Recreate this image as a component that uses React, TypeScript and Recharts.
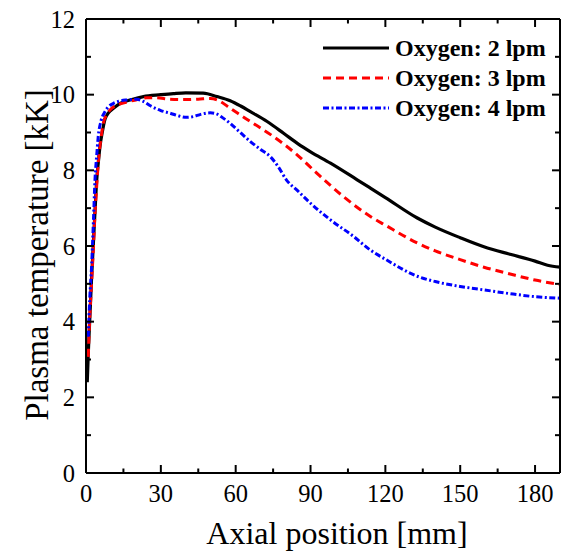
import React from 'react';
import { LineChart, Line, XAxis, YAxis, Legend, Label } from 'recharts';

const FONT = '"Liberation Serif", "Times New Roman", Times, serif';

// Axis ticks
const X_TICKS = [0, 15, 30, 45, 60, 75, 90, 105, 120, 135, 150, 165, 180];
const X_MAJOR_STEP = 30;
const Y_TICKS = [0, 1, 2, 3, 4, 5, 6, 7, 8, 9, 10, 11, 12];
const Y_MAJOR_STEP = 2;

const SERIES_NAMES = ['Oxygen: 2 lpm', 'Oxygen: 3 lpm', 'Oxygen: 4 lpm'];

// Oxygen 2 lpm
const O2_2_X = [0.5, 1.0, 1.6, 2.2, 2.9, 3.6, 4.3, 5.0, 5.6, 6.5, 7.6, 9.0, 11, 13.7, 17.7, 23, 30, 35, 40, 47, 52.5, 57.8, 62, 65.9, 72.6, 79.2, 85, 90, 98, 108.7, 114, 120, 132.8, 140, 150, 159.5, 170, 180, 185, 190];
const O2_2_T = [2.4, 3.3, 4.2, 5.1, 6.0, 6.9, 7.75, 8.25, 8.63, 9.0, 9.35, 9.52, 9.64, 9.77, 9.86, 9.95, 10.0, 10.03, 10.05, 10.04, 9.95, 9.84, 9.7, 9.55, 9.29, 8.98, 8.7, 8.49, 8.19, 7.75, 7.53, 7.28, 6.74, 6.5, 6.22, 5.98, 5.78, 5.6, 5.49, 5.44];

// Oxygen 3 lpm
const O2_3_X = [0.9, 1.5, 2.3, 3.0, 3.6, 4.3, 4.9, 6.0, 6.95, 8.5, 10, 13, 16, 20, 24.4, 28, 33.7, 40, 45, 49.8, 53, 57.8, 61, 65.9, 75.2, 84.6, 92.6, 103.3, 114, 120, 132.8, 140, 150, 159.5, 170, 180, 190];
const O2_3_T = [3.07, 4.1, 5.1, 6.0, 6.86, 7.6, 8.19, 8.85, 9.24, 9.5, 9.62, 9.74, 9.8, 9.86, 9.92, 9.92, 9.88, 9.87, 9.88, 9.9, 9.85, 9.64, 9.5, 9.29, 8.89, 8.41, 7.92, 7.3, 6.78, 6.55, 6.08, 5.87, 5.64, 5.44, 5.26, 5.1, 4.98];

// Oxygen 4 lpm
const O2_4_X = [0.9, 1.5, 2.3, 3.0, 3.6, 4.3, 4.9, 6.0, 7.6, 9.0, 11, 13.5, 16.3, 20.3, 23, 26, 30, 33.7, 37, 40.4, 43, 46, 49.8, 52, 55, 57.8, 61, 65.9, 70, 73.9, 77, 80.3, 85, 90, 98, 107.3, 114, 120, 132.8, 140, 150, 159.5, 170, 180, 190];
const O2_4_T = [3.6, 4.6, 5.54, 6.7, 7.75, 8.4, 8.89, 9.3, 9.55, 9.68, 9.77, 9.83, 9.86, 9.88, 9.82, 9.7, 9.58, 9.51, 9.44, 9.4, 9.42, 9.48, 9.52, 9.5, 9.38, 9.24, 9.05, 8.76, 8.55, 8.36, 8.1, 7.75, 7.45, 7.13, 6.69, 6.25, 5.89, 5.65, 5.2, 5.06, 4.93, 4.84, 4.74, 4.66, 4.62];

const toData = (xs: number[], ts: number[]) => xs.map((x, i) => ({ x, t: ts[i] }));

// The bottom/top and left/right axes share identical domains; binding one series to the
// mirrored pair makes those frame axes render without changing any position.
const SERIES = [
  { name: SERIES_NAMES[0], data: toData(O2_2_X, O2_2_T), color: '#000000', dash: undefined as string | undefined, width: 3.2, xId: 'b', yId: 'l' },
  { name: SERIES_NAMES[1], data: toData(O2_3_X, O2_3_T), color: '#ff0000', dash: '8 5', width: 3, xId: 't', yId: 'r' },
  { name: SERIES_NAMES[2], data: toData(O2_4_X, O2_4_T), color: '#0000ff', dash: '6 2.5 2 2.5', width: 3, xId: 'b', yId: 'l' },
];

const TICK_STROKE = 2;

const BottomTick = (props: any) => {
  const { x, y, payload } = props;
  const v = payload.value;
  const major = v % X_MAJOR_STEP === 0;
  return (
    <g>
      <line x1={x} x2={x} y1={y} y2={y - (major ? 8 : 4.5)} stroke="#000" strokeWidth={TICK_STROKE} />
      {major && (
        <text x={x} y={y + 29} textAnchor="middle" fontSize={24.5} fontFamily={FONT} fill="#000">
          {v}
        </text>
      )}
    </g>
  );
};

const TopTick = (props: any) => {
  const { x, y, payload } = props;
  const major = payload.value % X_MAJOR_STEP === 0;
  return <line x1={x} x2={x} y1={y} y2={y + (major ? 8 : 4.5)} stroke="#000" strokeWidth={TICK_STROKE} />;
};

const LeftTick = (props: any) => {
  const { x, y, payload } = props;
  const v = payload.value;
  const major = v % Y_MAJOR_STEP === 0;
  return (
    <g>
      <line x1={x} x2={x + (major ? 8 : 5)} y1={y} y2={y} stroke="#000" strokeWidth={TICK_STROKE} />
      {major && (
        <text x={x - 11} y={y + 8.5} textAnchor="end" fontSize={24.5} fontFamily={FONT} fill="#000">
          {v}
        </text>
      )}
    </g>
  );
};

const RightTick = (props: any) => {
  const { x, y, payload } = props;
  const major = payload.value % Y_MAJOR_STEP === 0;
  return <line x1={x} x2={x - (major ? 8 : 5)} y1={y} y2={y} stroke="#000" strokeWidth={TICK_STROKE} />;
};

const XTitle = (props: any) => {
  const { x, y, width } = props.viewBox;
  return (
    <text x={x + width / 2 + 14} y={y + 71} textAnchor="middle" fontSize={32} fontFamily={FONT} fill="#000">
      Axial position [mm]
    </text>
  );
};

const YTitle = (props: any) => {
  const { x, y, height } = props.viewBox;
  const cx = x + 48;
  const cy = y + height / 2 + 9;
  return (
    <text x={cx} y={cy} transform={`rotate(-90 ${cx} ${cy})`} textAnchor="middle" fontSize={33} fontFamily={FONT} fill="#000">
      Plasma temperature [kK]
    </text>
  );
};

const LegendContent = () => (
  <div style={{ fontFamily: FONT, fontWeight: 'bold', fontSize: 24, color: '#000' }}>
    {SERIES.map((s) => (
      <div key={s.name} style={{ display: 'flex', alignItems: 'center', height: 30 }}>
        <svg width={66} height={30} style={{ display: 'block' }}>
          <line x1={0} x2={66} y1={15} y2={15} stroke={s.color} strokeWidth={3} strokeDasharray={s.dash} />
        </svg>
        <span style={{ marginLeft: 6, lineHeight: '30px', whiteSpace: 'nowrap' }}>{s.name}</span>
      </div>
    ))}
  </div>
);

const axisLine = { stroke: '#000', strokeWidth: 2 };

export default function App() {
  return (
    <div style={{ position: 'absolute', left: 0, top: 0 }}>
      <LineChart width={568} height={554} margin={{ top: 18, right: 7, left: 0, bottom: 0 }}>
        <XAxis
          xAxisId="b"
          dataKey="x"
          type="number"
          domain={[0, 190]}
          ticks={X_TICKS}
          interval={0}
          tickSize={0}
          tickMargin={0}
          tickLine={false}
          axisLine={axisLine}
          tick={BottomTick}
          height={81}
          allowDataOverflow
        >
          <Label content={XTitle} />
        </XAxis>
        <XAxis
          xAxisId="t"
          orientation="top"
          type="number"
          dataKey="x"
          domain={[0, 190]}
          ticks={X_TICKS}
          interval={0}
          tickSize={0}
          tickMargin={0}
          tickLine={false}
          axisLine={axisLine}
          tick={TopTick}
          height={1}
          allowDataOverflow
        />
        <YAxis
          yAxisId="l"
          type="number"
          domain={[0, 12]}
          ticks={Y_TICKS}
          interval={0}
          tickSize={0}
          tickMargin={0}
          tickLine={false}
          axisLine={axisLine}
          tick={LeftTick}
          width={86}
          allowDataOverflow
        >
          <Label content={YTitle} />
        </YAxis>
        <YAxis
          yAxisId="r"
          orientation="right"
          type="number"
          domain={[0, 12]}
          ticks={Y_TICKS}
          interval={0}
          tickSize={0}
          tickMargin={0}
          tickLine={false}
          axisLine={axisLine}
          tick={RightTick}
          width={1}
          allowDataOverflow
        />
        <Legend
          layout="vertical"
          verticalAlign="middle"
          align="center"
          content={LegendContent}
          wrapperStyle={{ top: 33, left: 323, width: 'auto', position: 'absolute' }}
        />
        {SERIES.map((s) => (
          <Line
            key={s.name}
            xAxisId={s.xId}
            yAxisId={s.yId}
            data={s.data}
            dataKey="t"
            name={s.name}
            type="monotone"
            stroke={s.color}
            strokeWidth={s.width}
            strokeDasharray={s.dash}
            dot={false}
            activeDot={false}
            isAnimationActive={false}
          />
        ))}
      </LineChart>
    </div>
  );
}
